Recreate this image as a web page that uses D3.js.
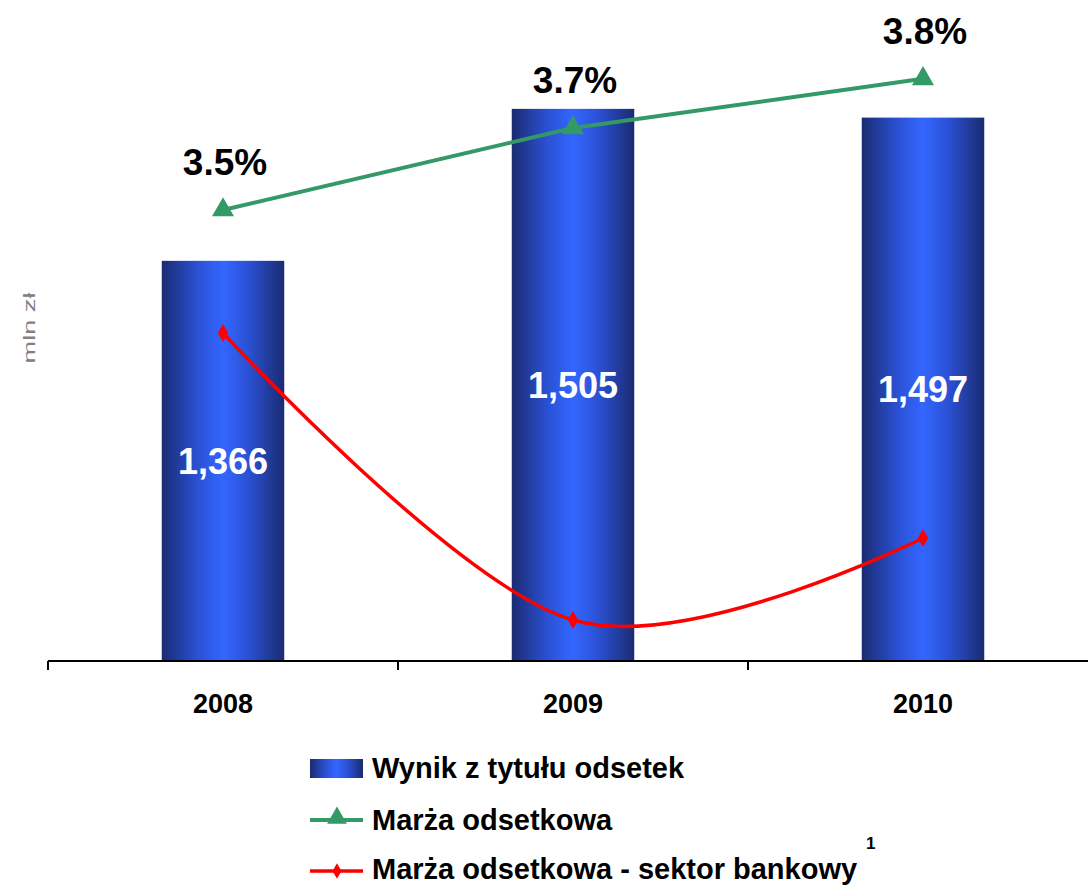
<!DOCTYPE html>
<html>
<head>
<meta charset="utf-8">
<script src="https://cdn.jsdelivr.net/npm/d3@7"></script>
<style>
  body { margin: 0; background: #fff; }
  text { font-family: "Liberation Sans", Arial, sans-serif; }
</style>
</head>
<body>
<div id="chart"></div>
<script>
const years = ["2008", "2009", "2010"];
const interestResult = [1366, 1505, 1497];       // mln zł
const interestMargin = [3.5, 3.7, 3.82];          // %
const sectorMargin = [3.2, 2.5, 2.7];             // %
const legendLabels = ["Wynik z tytułu odsetek", "Marża odsetkowa", "Marża odsetkowa - sektor bankowy"];

const width = 1088, height = 886;
const baseY = 661, topY = 5;

const svg = d3.select("#chart").append("svg")
    .attr("xmlns", "http://www.w3.org/2000/svg")
    .attr("width", width)
    .attr("height", height);

// bar gradient: dark edges, bright middle
const grad = svg.append("defs").append("linearGradient")
    .attr("id", "barGrad")
    .attr("x1", "0%").attr("x2", "100%")
    .attr("y1", "0%").attr("y2", "0%");
[[0, "#1b2b72"], [0.3, "#2b52d6"], [0.5, "#3366ff"], [0.7, "#2b52d6"], [1, "#1b2b72"]]
    .forEach(([o, c]) => grad.append("stop").attr("offset", o).attr("stop-color", c));

const x = d3.scaleBand().domain(years).range([48, 1098]).padding(0);
const y = d3.scaleLinear().domain([1000, 1600]).range([baseY, topY]);
const y2 = d3.scaleLinear().domain([2.4, 4.0]).range([baseY, topY]);
const barW = x.bandwidth() * 0.35;
const cx = d => x(d) + x.bandwidth() / 2;

// bars
svg.append("g").selectAll("rect")
    .data(years)
    .join("rect")
    .attr("x", (d) => cx(d) - barW / 2)
    .attr("y", (d, i) => y(interestResult[i]))
    .attr("width", barW)
    .attr("height", (d, i) => baseY - y(interestResult[i]))
    .attr("fill", "url(#barGrad)");

// bar value labels
svg.append("g").selectAll("text")
    .data(years)
    .join("text")
    .attr("x", d => cx(d))
    .attr("y", (d, i) => (y(interestResult[i]) + baseY) / 2 + 13)
    .attr("text-anchor", "middle")
    .attr("font-size", 36)
    .attr("font-weight", "bold")
    .attr("fill", "#fff")
    .text((d, i) => d3.format(",")(interestResult[i]));

// x axis
const xAxis = svg.append("g").attr("transform", `translate(0,${baseY})`);
xAxis.append("line")
    .attr("x1", x.range()[0]).attr("x2", x.range()[1])
    .attr("stroke", "#000").attr("stroke-width", 2);
xAxis.selectAll(".tick")
    .data(years.map(d => x(d)).concat([x.range()[1]]))
    .join("line")
    .attr("x1", d => d).attr("x2", d => d)
    .attr("y1", 0).attr("y2", 9)
    .attr("stroke", "#000").attr("stroke-width", 2);
xAxis.selectAll("text")
    .data(years)
    .join("text")
    .attr("x", d => cx(d))
    .attr("y", 52)
    .attr("text-anchor", "middle")
    .attr("font-size", 27)
    .attr("font-weight", "bold")
    .text(d => d);

// y axis title
svg.append("text")
    .attr("transform", "translate(35,328) rotate(-90) scale(1.6,1)")
    .attr("text-anchor", "middle")
    .attr("font-size", 17)
    .attr("fill", "#808080")
    .text("mln zł");

// red line: banking sector margin (smoothed)
const redLine = d3.line()
    .x((d, i) => cx(years[i]))
    .y(d => y2(d))
    .curve(d3.curveCatmullRom.alpha(0));
svg.append("path")
    .datum(sectorMargin)
    .attr("d", redLine)
    .attr("fill", "none")
    .attr("stroke", "#ff0000")
    .attr("stroke-width", 3.5);
svg.append("g").selectAll("path")
    .data(sectorMargin)
    .join("path")
    .attr("transform", (d, i) => `translate(${cx(years[i])},${y2(d)})`)
    .attr("d", d3.symbol(d3.symbolDiamond, 95))
    .attr("fill", "#ff0000");

// green line: interest margin
const greenLine = d3.line()
    .x((d, i) => cx(years[i]))
    .y(d => y2(d));
svg.append("path")
    .datum(interestMargin)
    .attr("d", greenLine)
    .attr("fill", "none")
    .attr("stroke", "#339966")
    .attr("stroke-width", 4);
svg.append("g").selectAll("path")
    .data(interestMargin)
    .join("path")
    .attr("transform", (d, i) => `translate(${cx(years[i])},${y2(d)})`)
    .attr("d", d3.symbol(d3.symbolTriangle, 210))
    .attr("fill", "#339966");
svg.append("g").selectAll("text")
    .data(interestMargin)
    .join("text")
    .attr("x", (d, i) => cx(years[i]) + 2)
    .attr("y", d => y2(d) - 35)
    .attr("text-anchor", "middle")
    .attr("font-size", 37)
    .attr("font-weight", "bold")
    .text(d => d.toFixed(1) + "%");

// legend
const legend = svg.append("g").attr("transform", "translate(310,0)");
legend.append("rect")
    .attr("x", 0).attr("y", 759)
    .attr("width", 53).attr("height", 19)
    .attr("fill", "url(#barGrad)");
legend.append("line")
    .attr("x1", 0).attr("x2", 53).attr("y1", 820).attr("y2", 820)
    .attr("stroke", "#339966").attr("stroke-width", 4);
legend.append("path")
    .attr("transform", "translate(27,818)")
    .attr("d", d3.symbol(d3.symbolTriangle, 170))
    .attr("fill", "#339966");
legend.append("line")
    .attr("x1", 0).attr("x2", 53).attr("y1", 871).attr("y2", 871)
    .attr("stroke", "#ff0000").attr("stroke-width", 3.5);
legend.append("path")
    .attr("transform", "translate(27,871)")
    .attr("d", d3.symbol(d3.symbolDiamond, 70))
    .attr("fill", "#ff0000");
legend.selectAll("text.lab")
    .data(legendLabels)
    .join("text")
    .attr("class", "lab")
    .attr("x", 62)
    .attr("y", (d, i) => [778, 830, 879][i])
    .attr("font-size", 29)
    .attr("font-weight", "bold")
    .text(d => d);
svg.append("text")
    .attr("x", 866).attr("y", 849)
    .attr("font-size", 17)
    .attr("font-weight", "bold")
    .text("1");
</script>
</body>
</html>
